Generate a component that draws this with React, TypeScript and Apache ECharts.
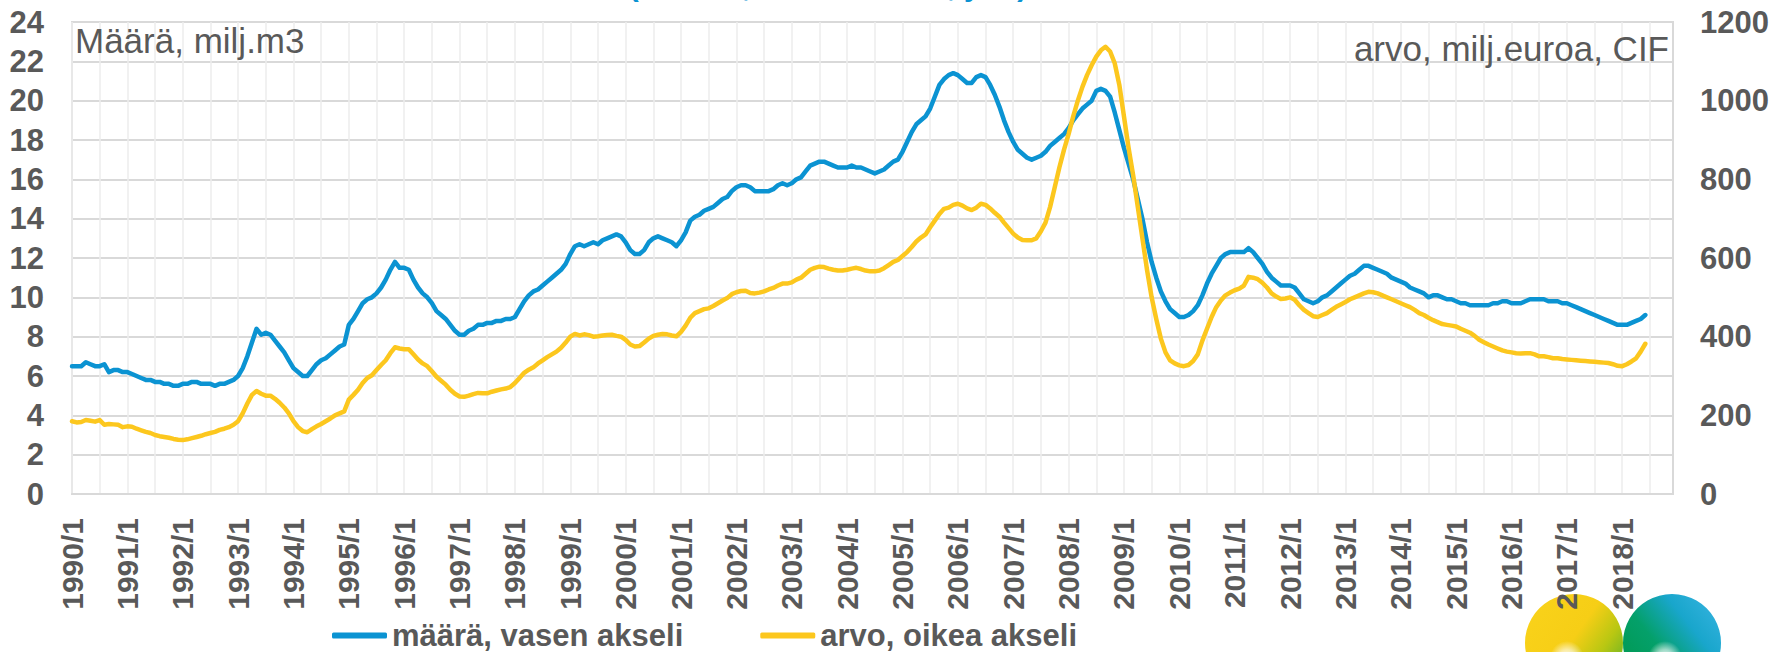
import React, { useEffect, useRef } from "react";
import * as echarts from "echarts";

// ---------- categories (months 1990/1 .. 2018/12) ----------
const FIRST_YEAR = 1990;
const LAST_YEAR = 2018;
const categories: string[] = [];
for (let y = FIRST_YEAR; y <= LAST_YEAR; y++) {
  for (let m = 1; m <= 12; m++) categories.push(`${y}/${m}`);
}

// ---------- series: volume, million m3 (left axis) ----------
const volume: number[] = [
  // 1990
  6.5, 6.5, 6.5, 6.7, 6.6, 6.5, 6.5, 6.6, 6.2, 6.3, 6.3, 6.2,
  // 1991
  6.2, 6.1, 6.0, 5.9, 5.8, 5.8, 5.7, 5.7, 5.6, 5.6, 5.5, 5.5,
  // 1992
  5.6, 5.6, 5.7, 5.7, 5.6, 5.6, 5.6, 5.5, 5.6, 5.6, 5.7, 5.8,
  // 1993
  6.0, 6.4, 7.0, 7.7, 8.4, 8.1, 8.2, 8.1, 7.8, 7.5, 7.2, 6.8,
  // 1994
  6.4, 6.2, 6.0, 6.0, 6.3, 6.6, 6.8, 6.9, 7.1, 7.3, 7.5, 7.6,
  // 1995
  8.6, 8.9, 9.3, 9.7, 9.9, 10.0, 10.2, 10.5, 10.9, 11.4, 11.8, 11.5,
  // 1996
  11.5, 11.4, 10.9, 10.5, 10.2, 10.0, 9.7, 9.3, 9.1, 8.9, 8.6, 8.3,
  // 1997
  8.1, 8.1, 8.3, 8.4, 8.6, 8.6, 8.7, 8.7, 8.8, 8.8, 8.9, 8.9,
  // 1998
  9.0, 9.4, 9.8, 10.1, 10.3, 10.4, 10.6, 10.8, 11.0, 11.2, 11.4, 11.7,
  // 1999
  12.2, 12.6, 12.7, 12.6, 12.7, 12.8, 12.7, 12.9, 13.0, 13.1, 13.2, 13.1,
  // 2000
  12.8, 12.4, 12.2, 12.2, 12.4, 12.8, 13.0, 13.1, 13.0, 12.9, 12.8, 12.6,
  // 2001
  12.9, 13.3, 13.9, 14.1, 14.2, 14.4, 14.5, 14.6, 14.8, 15.0, 15.1, 15.4,
  // 2002
  15.6, 15.7, 15.7, 15.6, 15.4, 15.4, 15.4, 15.4, 15.5, 15.7, 15.8, 15.7,
  // 2003
  15.8, 16.0, 16.1, 16.4, 16.7, 16.8, 16.9, 16.9, 16.8, 16.7, 16.6, 16.6,
  // 2004
  16.6, 16.7, 16.6, 16.6, 16.5, 16.4, 16.3, 16.4, 16.5, 16.7, 16.9, 17.0,
  // 2005
  17.4, 17.9, 18.4, 18.8, 19.0, 19.2, 19.6, 20.2, 20.8, 21.1, 21.3, 21.4,
  // 2006
  21.3, 21.1, 20.9, 20.9, 21.2, 21.3, 21.2, 20.8, 20.3, 19.7, 19.0, 18.4,
  // 2007
  17.9, 17.5, 17.3, 17.1, 17.0, 17.1, 17.2, 17.4, 17.7, 17.9, 18.1, 18.3,
  // 2008
  18.6, 19.0, 19.3, 19.6, 19.8, 20.0, 20.5, 20.6, 20.5, 20.2, 19.4, 18.5,
  // 2009
  17.6, 16.8, 16.0, 15.0, 14.0, 12.8, 11.8, 11.0, 10.3, 9.8, 9.4, 9.2,
  // 2010
  9.0, 9.0, 9.1, 9.3, 9.6, 10.1, 10.7, 11.2, 11.6, 12.0, 12.2, 12.3,
  // 2011
  12.3, 12.3, 12.3, 12.5, 12.3, 12.0, 11.7, 11.3, 11.0, 10.8, 10.6, 10.6,
  // 2012
  10.6, 10.5, 10.2, 9.9, 9.8, 9.7, 9.8, 10.0, 10.1, 10.3, 10.5, 10.7,
  // 2013
  10.9, 11.1, 11.2, 11.4, 11.6, 11.6, 11.5, 11.4, 11.3, 11.2, 11.0, 10.9,
  // 2014
  10.8, 10.7, 10.5, 10.4, 10.3, 10.2, 10.0, 10.1, 10.1, 10.0, 9.9, 9.9,
  // 2015
  9.8, 9.7, 9.7, 9.6, 9.6, 9.6, 9.6, 9.6, 9.7, 9.7, 9.8, 9.8,
  // 2016
  9.7, 9.7, 9.7, 9.8, 9.9, 9.9, 9.9, 9.9, 9.8, 9.8, 9.8, 9.7,
  // 2017
  9.7, 9.6, 9.5, 9.4, 9.3, 9.2, 9.1, 9.0, 8.9, 8.8, 8.7, 8.6,
  // 2018
  8.6, 8.6, 8.7, 8.8, 8.9, 9.1,
];

// ---------- series: value, million euro CIF (right axis) ----------
const value: number[] = [
  // 1990
  185, 182, 183, 188, 186, 184, 188, 176, 178, 177, 176, 170,
  // 1991
  172, 171, 166, 162, 158, 155, 150, 147, 145, 143, 140, 138,
  // 1992
  137, 139, 142, 145, 148, 152, 155, 158, 163, 166, 170, 176,
  // 1993
  185, 205, 230, 252, 262, 255, 250, 250, 242, 232, 220, 205,
  // 1994
  185, 170, 160, 157, 165, 172, 178, 185, 192, 200, 205, 210,
  // 1995
  240, 252, 265, 282, 295, 302, 315, 328, 340, 358, 373, 370,
  // 1996
  368, 368, 355, 342, 332, 325, 312, 298, 288, 278, 265, 255,
  // 1997
  248, 247, 250, 254, 257, 256, 256, 260, 263, 266, 268, 272,
  // 1998
  282, 295, 308, 316, 322, 332, 340, 348, 355, 362, 372, 385,
  // 1999
  400, 407, 403, 406, 404, 400, 401, 403, 404, 405, 402, 400,
  // 2000
  392, 380, 375, 376, 385, 395, 402, 405, 407, 406, 403, 401,
  // 2001
  412, 428, 448, 460, 465, 470, 472, 478, 485, 492, 498, 508,
  // 2002
  513, 516, 517, 511, 510, 512, 515, 520, 524, 530, 535, 535,
  // 2003
  538, 545, 550, 560, 570, 575, 578, 577, 573, 570, 568, 568,
  // 2004
  570, 573, 575, 572, 568, 566, 566, 568, 574, 582, 590, 595,
  // 2005
  605, 615, 628, 642, 652, 660, 678, 695, 712, 725, 728, 735,
  // 2006
  738, 733, 726, 722, 728, 738, 735, 726, 715, 705, 690, 676,
  // 2007
  662, 652, 646, 645, 645, 650, 668, 690, 730, 780, 830, 875,
  // 2008
  915, 960, 1000, 1035, 1065, 1090, 1112, 1128, 1137, 1125, 1095, 1040,
  // 2009
  960, 880, 810, 730, 650, 570, 500, 445, 395, 360, 340, 332,
  // 2010
  327, 325, 328, 338, 355, 390, 420, 450, 475, 492, 505, 512,
  // 2011
  518, 522, 530, 552, 550, 546, 537, 525, 510, 502, 496, 497,
  // 2012
  500, 494, 480, 468, 460, 452, 450, 455, 460, 468, 476, 482,
  // 2013
  488, 495, 500, 505, 510, 514, 513, 510, 505, 500, 495, 490,
  // 2014
  485, 480, 475, 468, 460, 455, 448, 442, 437, 432, 430, 428,
  // 2015
  426, 420, 415, 410, 402, 392, 386, 380, 375, 370, 365, 362,
  // 2016
  360, 358, 357, 358, 358, 355, 350, 350, 348, 345, 345, 343,
  // 2017
  342, 341, 340, 339, 338, 337, 336, 335, 334, 333, 330, 326,
  // 2018
  325, 330, 337, 345, 362, 382,
];

// ---------- texts & axis settings ----------
const seriesNames = ["määrä, vasen akseli", "arvo, oikea akseli"];
const leftUnitText = "Määrä, milj.m3";
const rightUnitText = "arvo, milj.euroa, CIF";
const subtitleText = "(liukuva, 12 kk summa, yht.)";
const leftAxis = { min: 0, max: 24, interval: 2 };
const rightAxis = { min: 0, max: 1200, interval: 200 };

const BLUE = "#0B93D2";
const YELLOW = "#FCC71E";
const GREY = "#595959";
const FONT = "'Liberation Sans', Arial, Helvetica, sans-serif";

function pad(arr: number[]): (number | null)[] {
  const out: (number | null)[] = arr.slice();
  while (out.length < categories.length) out.push(null);
  return out;
}

export default function App() {
  const ref = useRef<HTMLDivElement>(null);

  useEffect(() => {
    if (!ref.current) return;
    const chart = echarts.init(ref.current, null, { renderer: "svg" });

    const holeFill = () =>
      new echarts.graphic.RadialGradient(0.5, 0.5, 0.5, [
        { offset: 0, color: "rgba(255,255,255,0.95)" },
        { offset: 0.5, color: "rgba(255,255,255,0.6)" },
        { offset: 1, color: "rgba(255,255,255,0)" },
      ]);

    const option: any = {
      animation: false,
      backgroundColor: "#ffffff",
      textStyle: { fontFamily: FONT },
      grid: {
        left: 72,
        right: 100,
        top: 22,
        bottom: 158,
        show: true,
        borderColor: "#d9d9d9",
        borderWidth: 2,
        containLabel: false,
      },
      legend: {
        left: 327,
        top: 615,
        icon: "roundRect",
        itemWidth: 55,
        itemHeight: 6,
        itemGap: 77,
        selectedMode: false,
        textStyle: {
          fontSize: 31,
          fontWeight: "bold",
          color: GREY,
          fontFamily: FONT,
        },
        data: seriesNames,
      },
      xAxis: {
        type: "category",
        data: categories,
        boundaryGap: false,
        axisLine: { show: true, lineStyle: { color: "#d9d9d9", width: 2 } },
        axisTick: { show: false },
        axisLabel: {
          interval: (index: number) => index % 12 === 0,
          rotate: 90,
          margin: 24,
          fontSize: 30,
          fontWeight: "bold",
          color: GREY,
          fontFamily: FONT,
        },
        splitLine: {
          show: true,
          interval: (index: number) => index % 6 === 0,
          lineStyle: { color: "#ededed", width: 1.5 },
        },
      },
      yAxis: [
        {
          type: "value",
          position: "left",
          min: leftAxis.min,
          max: leftAxis.max,
          interval: leftAxis.interval,
          axisLine: { show: false },
          axisTick: { show: false },
          axisLabel: {
            margin: 28,
            fontSize: 31,
            fontWeight: "bold",
            color: GREY,
            fontFamily: FONT,
            formatter: (v: number) => String(v),
          },
          splitLine: { show: true, lineStyle: { color: "#d9d9d9", width: 2 } },
        },
        {
          type: "value",
          position: "right",
          min: rightAxis.min,
          max: rightAxis.max,
          interval: rightAxis.interval,
          axisLine: { show: false },
          axisTick: { show: false },
          axisLabel: {
            margin: 27,
            fontSize: 31,
            fontWeight: "bold",
            color: GREY,
            fontFamily: FONT,
            formatter: (v: number) => String(v),
          },
          splitLine: { show: false },
        },
      ],
      series: [
        {
          name: seriesNames[0],
          type: "line",
          yAxisIndex: 0,
          data: pad(volume),
          showSymbol: false,
          symbol: "none",
          itemStyle: { color: BLUE },
          lineStyle: { color: BLUE, width: 4.5, cap: "round", join: "round" },
          z: 3,
        },
        {
          name: seriesNames[1],
          type: "line",
          yAxisIndex: 1,
          data: pad(value),
          showSymbol: false,
          symbol: "none",
          itemStyle: { color: YELLOW },
          lineStyle: { color: YELLOW, width: 4.5, cap: "round", join: "round" },
          z: 4,
        },
      ],
      graphic: [
        // logo (behind the axis labels)
        {
          type: "circle",
          z: -5,
          shape: { cx: 1574, cy: 643, r: 49 },
          style: {
            fill: new echarts.graphic.LinearGradient(0, 0.2, 1, 0.9, [
              { offset: 0, color: "#F9D21A" },
              { offset: 0.45, color: "#F6CE16" },
              { offset: 0.7, color: "#B9C712" },
              { offset: 1, color: "#4FAE2C" },
            ]),
          },
        },
        {
          type: "circle",
          z: -5,
          shape: { cx: 1672, cy: 643, r: 49 },
          style: {
            fill: new echarts.graphic.LinearGradient(0, 0.9, 1, 0.1, [
              { offset: 0, color: "#00974C" },
              { offset: 0.4, color: "#04A06A" },
              { offset: 0.7, color: "#19A6CC" },
              { offset: 1, color: "#36B3E0" },
            ]),
          },
        },
        {
          type: "circle",
          z: -4,
          shape: { cx: 1567, cy: 658, r: 17 },
          style: { fill: holeFill() },
        },
        {
          type: "circle",
          z: -4,
          shape: { cx: 1665, cy: 658, r: 17 },
          style: { fill: holeFill() },
        },
        // unit texts inside the plot
        {
          type: "text",
          z: 10,
          x: 75,
          y: 40,
          style: {
            text: leftUnitText,
            fill: GREY,
            fontSize: 35,
            fontFamily: FONT,
            align: "left",
            verticalAlign: "middle",
          },
        },
        {
          type: "text",
          z: 10,
          x: 1669,
          y: 48,
          style: {
            text: rightUnitText,
            fill: GREY,
            fontSize: 35,
            fontFamily: FONT,
            align: "right",
            verticalAlign: "middle",
          },
        },
        // clipped subtitle at the very top
        {
          type: "text",
          z: 10,
          x: 828,
          y: -15,
          style: {
            text: subtitleText,
            fill: BLUE,
            fontSize: 30,
            fontWeight: "bold",
            fontFamily: FONT,
            align: "center",
            verticalAlign: "middle",
          },
        },
      ],
    };

    chart.setOption(option);
    return () => chart.dispose();
  }, []);

  return (
    <div
      ref={ref}
      style={{
        position: "absolute",
        left: 0,
        top: 0,
        width: 1773,
        height: 652,
        background: "#fff",
      }}
    />
  );
}
